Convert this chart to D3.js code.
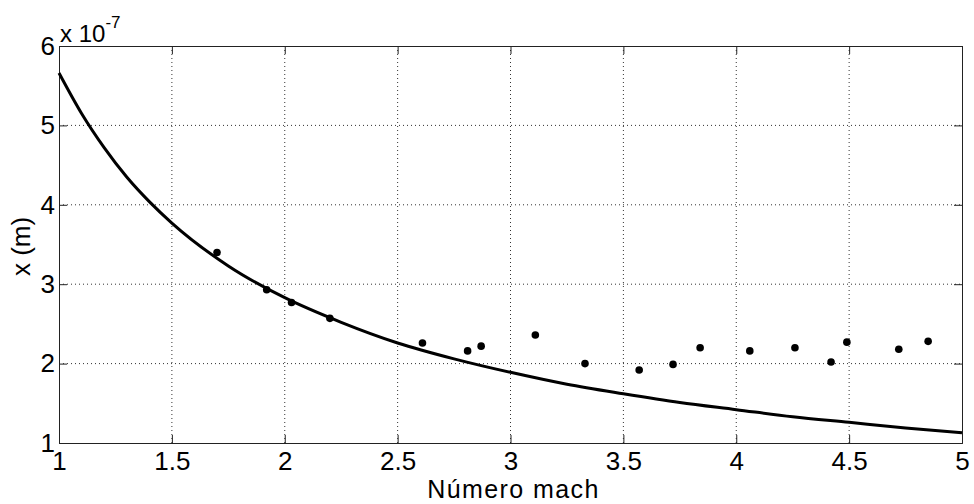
<!DOCTYPE html>
<html>
<head>
<meta charset="utf-8">
<script src="https://cdn.jsdelivr.net/npm/d3@7"></script>
<style>
  html, body { margin: 0; padding: 0; background: #fff; }
  svg { display: block; font-family: Arial, "Liberation Sans", sans-serif; }
  .grid line { stroke: #333; stroke-dasharray: 1 3; stroke-width: 1; }
</style>
</head>
<body>
<div id="chart"></div>
<script>
// measured points (x in units of 1e-7 m)
const machPoints = [1.70, 1.92, 2.03, 2.20, 2.61, 2.81, 2.87, 3.11, 3.33, 3.57, 3.72, 3.84, 4.06, 4.26, 4.42, 4.49, 4.72, 4.85];
const xPoints = [3.40, 2.93, 2.77, 2.57, 2.26, 2.16, 2.22, 2.36, 2.00, 1.92, 1.99, 2.20, 2.16, 2.20, 2.02, 2.27, 2.18, 2.28];

// theoretical curve
const machCurve = [1.0, 1.1, 1.2, 1.3, 1.4, 1.5, 1.75, 2.0, 2.25, 2.5, 2.75, 3.0, 3.25, 3.5, 3.75, 4.0, 4.25, 4.5, 4.75, 5.0];
const xCurve = [5.66, 5.15, 4.72, 4.35, 4.04, 3.77, 3.23, 2.83, 2.52, 2.26, 2.06, 1.89, 1.74, 1.62, 1.51, 1.42, 1.33, 1.26, 1.19, 1.13];

const xTicks = [1, 1.5, 2, 2.5, 3, 3.5, 4, 4.5, 5];
const yTicks = [1, 2, 3, 4, 5, 6];

const W = 974, H = 504;
const margin = { top: 46, right: 12, bottom: 61, left: 59 };
const width = W - margin.left - margin.right;
const height = H - margin.top - margin.bottom;

const svg = d3.select('#chart').append('svg')
    .attr('width', W)
    .attr('height', H);

const g = svg.append('g')
    .attr('transform', `translate(${margin.left},${margin.top})`);

const x = d3.scaleLinear().domain([1, 5]).range([0, width]);
const y = d3.scaleLinear().domain([1, 6]).range([height, 0]);

// grid
g.append('g').attr('class', 'grid')
    .selectAll('line').data(xTicks.slice(1, -1)).join('line')
    .attr('x1', d => x(d)).attr('x2', d => x(d))
    .attr('y1', 0).attr('y2', height);
g.append('g').attr('class', 'grid')
    .selectAll('line').data(yTicks.slice(1, -1)).join('line')
    .attr('y1', d => y(d)).attr('y2', d => y(d))
    .attr('x1', 0).attr('x2', width);

// axes with inward ticks
const tickLen = 8;
const xAxis = g.append('g')
    .attr('transform', `translate(0,${height})`)
    .call(d3.axisBottom(x).tickValues(xTicks).tickSize(-tickLen).tickPadding(9).tickFormat(d3.format('')));
const yAxis = g.append('g')
    .call(d3.axisLeft(y).tickValues(yTicks).tickSize(-tickLen).tickPadding(4).tickFormat(d3.format('')));
const xTop = g.append('g')
    .call(d3.axisTop(x).tickValues(xTicks).tickSize(-tickLen).tickFormat(''));
const yRight = g.append('g')
    .attr('transform', `translate(${width},0)`)
    .call(d3.axisRight(y).tickValues(yTicks).tickSize(-tickLen).tickFormat(''));

[xAxis, yAxis, xTop, yRight].forEach(a => {
    a.select('.domain').attr('stroke', '#222').attr('stroke-width', 1);
    a.selectAll('.tick line').attr('stroke', '#222');
    a.selectAll('.tick text').attr('fill', '#000').style('font-size', '26px')
        .style('font-family', 'Arial, "Liberation Sans", sans-serif');
});

// curve
const line = d3.line()
    .x((d, i) => x(machCurve[i]))
    .y(d => y(d))
    .curve(d3.curveMonotoneX);
g.append('path')
    .datum(xCurve)
    .attr('fill', 'none')
    .attr('stroke', '#000')
    .attr('stroke-width', 3)
    .attr('d', line);

// points
g.append('g').selectAll('circle')
    .data(xPoints).join('circle')
    .attr('cx', (d, i) => x(machPoints[i]))
    .attr('cy', d => y(d))
    .attr('r', 3.8)
    .attr('fill', '#000');

// exponent label
const expo = svg.append('text')
    .attr('x', margin.left + 1)
    .attr('y', 42)
    .style('font-size', '24px')
    .attr('fill', '#000');
expo.append('tspan').text('x 10');
expo.append('tspan').attr('dy', -14).style('font-size', '17px').text('-7');

// axis labels
svg.append('text')
    .attr('x', margin.left + width / 2 + 3)
    .attr('y', 498)
    .attr('text-anchor', 'middle')
    .style('font-size', '25px')
    .style('letter-spacing', '1.4px')
    .attr('fill', '#000')
    .text('Número mach');

svg.append('text')
    .attr('transform', `translate(30,${margin.top + height / 2 + 2}) rotate(-90)`)
    .attr('text-anchor', 'middle')
    .style('font-size', '26px')
    .attr('fill', '#000')
    .text('x (m)');
</script>
</body>
</html>
